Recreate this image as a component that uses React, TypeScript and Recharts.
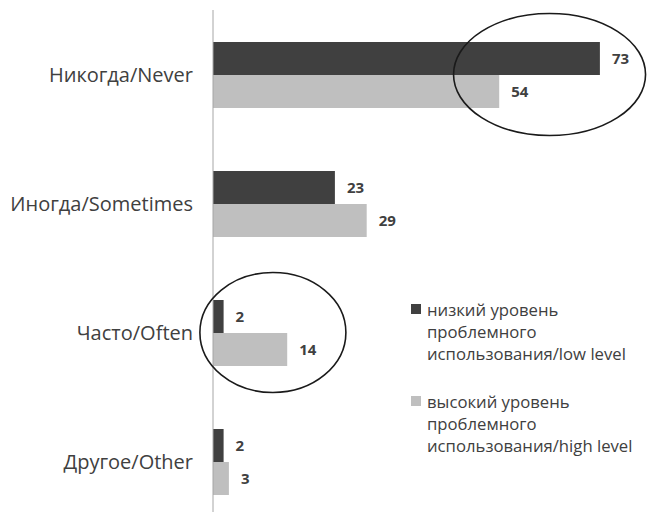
import React from 'react';
import { BarChart, Bar, XAxis, YAxis, LabelList, ReferenceDot, Legend } from 'recharts';

const categories = ['Никогда/Never', 'Иногда/Sometimes', 'Часто/Often', 'Другое/Other'];
const lowLevel = [73, 23, 2, 2];
const highLevel = [54, 29, 14, 3];
const seriesNames = [
  'низкий уровень проблемного использования/low level',
  'высокий уровень проблемного использования/high level',
];
const legendLines = [
  ['низкий уровень', 'проблемного', 'использования/low level'],
  ['высокий уровень', 'проблемного', 'использования/high level'],
];
// highlighted areas (category, centre value)
const highlightCategories = ['Никогда/Never', 'Часто/Often'];
const highlightCentres = [63.5, 11.3];

const data = categories.map((c, i) => ({ category: c, low: lowLevel[i], high: highLevel[i] }));

const DARK = '#404040';
const LIGHT = '#bfbfbf';
const FONT = '"Open Sans", "Noto Sans", sans-serif';

const ellipseSizes = [
  { rx: 96, ry: 61 },
  { rx: 73, ry: 60 },
];

const LegendContent = () => (
  <div style={{ fontFamily: FONT, fontSize: 16.7, color: '#404040', lineHeight: '22px' }}>
    {legendLines.map((lines, i) => (
      <div key={i} style={{ display: 'flex', marginBottom: i === 0 ? 26 : 0 }}>
        <div
          style={{
            width: 10,
            height: 10,
            background: i === 0 ? DARK : LIGHT,
            marginTop: 5,
            marginRight: 6,
            flex: 'none',
          }}
        />
        <div>
          {lines.map((l, j) => (
            <div key={j} style={{ whiteSpace: 'nowrap' }}>{l}</div>
          ))}
        </div>
      </div>
    ))}
  </div>
);

export default function App() {
  return (
    <div style={{ position: 'fixed', left: 0, top: 0, width: 648, height: 512, overflow: 'hidden', background: '#fff' }}>
      <BarChart
        width={648}
        height={526}
        data={data}
        layout="vertical"
        margin={{ top: 10, right: 11, bottom: 0, left: 0 }}
        barSize={33}
        barGap={0}
      >
        <XAxis type="number" domain={[0, 80]} hide />
        <YAxis
          type="category"
          dataKey="category"
          width={213}
          tickLine={false}
          tickMargin={14}
          axisLine={{ stroke: '#a6a6a6', strokeWidth: 1 }}
          tick={{ fill: '#404040', fontSize: 20, fontFamily: FONT }}
          interval={0}
        />
        <Bar dataKey="low" name={seriesNames[0]} fill={DARK} isAnimationActive={false}>
          <LabelList dataKey="low" position="right" offset={12} fill="#404040" fontSize={15} fontWeight="bold" fontFamily={FONT} />
        </Bar>
        <Bar dataKey="high" name={seriesNames[1]} fill={LIGHT} isAnimationActive={false}>
          <LabelList dataKey="high" position="right" offset={12} fill="#404040" fontSize={15} fontWeight="bold" fontFamily={FONT} />
        </Bar>
        {highlightCategories.map((c, i) => (
          <ReferenceDot
            key={c}
            x={highlightCentres[i]}
            y={c}
            ifOverflow="visible"
            shape={(p: any) => (
              <ellipse
                cx={p.cx}
                cy={p.cy}
                rx={ellipseSizes[i].rx}
                ry={ellipseSizes[i].ry}
                fill="none"
                stroke="#1a1a1a"
                strokeWidth={1.6}
              />
            )}
          />
        ))}
        <Legend
          layout="vertical"
          align="center"
          verticalAlign="middle"
          content={<LegendContent />}
          wrapperStyle={{ position: 'absolute', left: 411, top: 299, width: 237 }}
        />
      </BarChart>
    </div>
  );
}
